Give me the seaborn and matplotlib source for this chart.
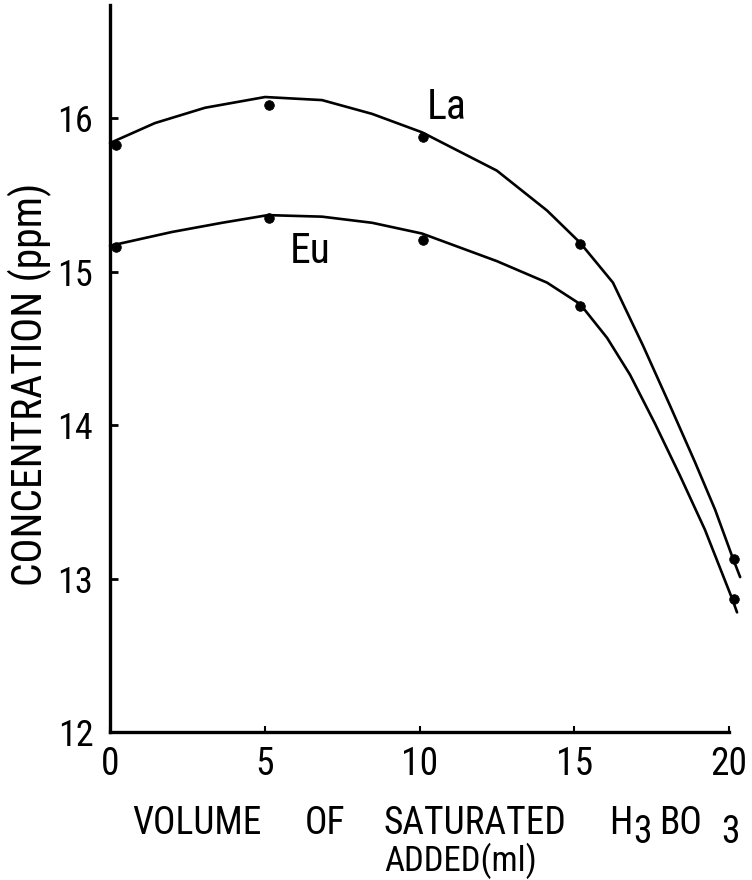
import matplotlib
matplotlib.use("Agg")
import matplotlib.pyplot as plt
import seaborn as sns
import pandas as pd
from matplotlib import font_manager

# ---- data ----
x_points = [0.2, 5.15, 10.1, 15.2, 20.15]
la_points = [15.83, 16.09, 15.88, 15.18, 13.13]
eu_points = [15.16, 15.35, 15.21, 14.78, 12.87]

la_curve_x = [0.0, 1.45, 3.07, 5.01, 6.85, 8.47, 10.08, 12.50, 14.12, 15.19, 16.25, 17.22, 18.09, 18.90, 19.55, 20.13, 20.36]
la_curve_y = [15.84, 15.97, 16.07, 16.14, 16.12, 16.03, 15.91, 15.66, 15.40, 15.19, 14.93, 14.52, 14.13, 13.76, 13.45, 13.13, 13.01]
eu_curve_x = [0.0, 2.0, 3.62, 5.1, 6.85, 8.47, 10.08, 12.5, 14.12, 15.19, 16.06, 16.80, 17.61, 18.42, 19.22, 20.10, 20.26]
eu_curve_y = [15.17, 15.26, 15.32, 15.37, 15.36, 15.32, 15.25, 15.07, 14.93, 14.79, 14.57, 14.33, 14.01, 13.67, 13.32, 12.87, 12.78]

x_ticks = [0, 5, 10, 15, 20]
y_ticks = [12, 13, 14, 15, 16]
series_labels = ["La", "Eu"]

sns.set_theme(style="white")

# pick a narrow font if one is available
fam, stretch = "DejaVu Sans", "normal"
for f in font_manager.fontManager.ttflist:
    if f.name in ("Liberation Sans Narrow", "Roboto Condensed", "Open Sans Condensed"):
        fam, stretch = f.name, "normal"
        break
else:
    for f in font_manager.fontManager.ttflist:
        if f.name == "DejaVu Sans" and str(f.stretch) in ("condensed", "semi-condensed"):
            stretch = "condensed"
            break
plt.rcParams["font.family"] = [fam, "DejaVu Sans"]
plt.rcParams["font.stretch"] = stretch
plt.rcParams["text.color"] = "black"
plt.rcParams["xtick.color"] = "black"
plt.rcParams["ytick.color"] = "black"

W, H = 752, 880
fig = plt.figure(figsize=(W / 100, H / 100), dpi=100)
ax = fig.add_axes([110 / W, 1 - 732 / H, (729 - 110) / W, (732 - 5) / H])

la_df = pd.DataFrame({"x": la_curve_x, "y": la_curve_y})
eu_df = pd.DataFrame({"x": eu_curve_x, "y": eu_curve_y})
for df in (la_df, eu_df):
    sns.lineplot(data=df, x="x", y="y", ax=ax, color="black", lw=1.9,
                 estimator=None, sort=False, clip_on=False)
for line in ax.lines:
    line.set_solid_joinstyle("round")
    line.set_solid_capstyle("round")

pts = pd.DataFrame({"x": x_points * 2, "y": la_points + eu_points,
                    "s": ["La"] * 5 + ["Eu"] * 5})
sns.scatterplot(data=pts, x="x", y="y", ax=ax, color="black", s=48,
                edgecolor="black", legend=False, clip_on=False, zorder=5)

ax.set_xlim(0, 20)
ax.set_ylim(12, 16.74)
ax.set_xticks(x_ticks)
ax.set_yticks(y_ticks)
ax.set_xticklabels([str(t) for t in x_ticks], fontsize=27)
ax.set_yticklabels([str(t) for t in y_ticks], fontsize=26)
ax.tick_params(axis="y", direction="in", length=6, width=2, pad=12)
ax.tick_params(axis="x", direction="in", length=4, width=1.5, pad=10)
ax.tick_params(left=True, bottom=True)
for s in ["top", "right"]:
    ax.spines[s].set_visible(False)
for s in ["left", "bottom"]:
    ax.spines[s].set_color("black")
    ax.spines[s].set_linewidth(2.4)
ax.set_xlabel("")
ax.set_ylabel("")

ax.text(10.89, 16.07, series_labels[0], fontsize=30, ha="center", va="center")
ax.text(6.46, 15.13, series_labels[1], fontsize=30, ha="center", va="center")

def ftext(x, y, s, **kw):
    fig.text(x / W, 1 - y / H, s, **kw)

fs = 27
yl = 834  # baseline of first x-label line
ftext(132, yl, "VOLUME", fontsize=fs, ha="left", va="baseline")
ftext(305, yl, "OF", fontsize=fs, ha="left", va="baseline")
ftext(384, yl, "SATURATED", fontsize=fs, ha="left", va="baseline")
ftext(609, yl, "H", fontsize=fs, ha="left", va="baseline")
ftext(633, yl + 9, "3", fontsize=fs, ha="left", va="baseline")
ftext(659, yl, "BO", fontsize=fs, ha="left", va="baseline")
ftext(721, yl + 9, "3", fontsize=fs, ha="left", va="baseline")
ftext(384, 871, "ADDED(ml)", fontsize=25, ha="left", va="baseline")

ftext(30, 384, "CONCENTRATION (ppm)", fontsize=30, rotation=90,
      ha="center", va="center")

fig.savefig("out.png", dpi=100)
